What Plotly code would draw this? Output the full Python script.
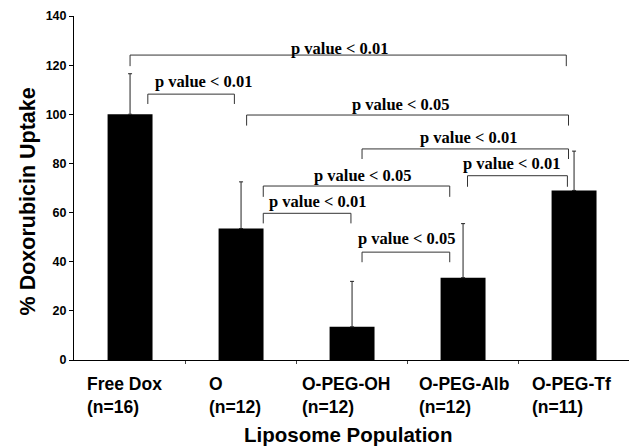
import plotly.graph_objects as go

# ---- data ----
categories = ["Free Dox", "O", "O-PEG-OH", "O-PEG-Alb", "O-PEG-Tf"]
n_labels = ["(n=16)", "(n=12)", "(n=12)", "(n=12)", "(n=11)"]
uptake_mean = [100, 53.5, 13.5, 33.5, 69]
uptake_err = [16.5, 19, 18.5, 22, 16]
y_ticks = [0, 20, 40, 60, 80, 100, 120, 140]

# significance comparisons: (group a, group b, label)
pair_a = ["Free Dox", "Free Dox", "O", "O-PEG-OH", "O-PEG-Alb", "O", "O", "O-PEG-OH"]
pair_b = ["O-PEG-Tf", "O", "O-PEG-Tf", "O-PEG-Tf", "O-PEG-Tf", "O-PEG-Alb", "O-PEG-OH", "O-PEG-Alb"]
p_labels = ["p value < 0.01", "p value < 0.01", "p value < 0.05", "p value < 0.01",
            "p value < 0.01", "p value < 0.05", "p value < 0.01", "p value < 0.05"]

# ---- layout geometry for the brackets (offsets from group centres, in axis units) ----
br_left_off = [0.0, 0.16, 0.05, 0.09, 0.04, 0.2, 0.2, 0.09]
br_right_off = [-0.07, -0.06, -0.05, -0.05, -0.06, -0.12, -0.01, -0.12]
br_top = [124.1, 108.2, 99.7, 85.9, 75.0, 70.8, 59.7, 43.9]
br_foot = [119.6, 104.2, 95.4, 81.8, 70.5, 66.4, 55.6, 39.8]
lab_x = [1.89, 0.66, 2.44, 3.05, 3.44, 2.09, 1.69, 2.49]
lab_y = [126.9, 113.2, 103.8, 90.5, 79.9, 74.9, 64.5, 49.3]
xlab_off = [-0.405, -0.306, -0.47, -0.414, -0.396]

SANS = "Arial, Liberation Sans, sans-serif"
SERIF = "Times New Roman, Liberation Serif, serif"

xpos = list(range(len(categories)))
idx = {c: i for i, c in enumerate(categories)}

fig = go.Figure()
fig.add_trace(go.Bar(
    x=xpos, y=uptake_mean, width=0.405,
    marker=dict(color="black", line=dict(width=0)),
    error_y=dict(type="data", array=uptake_err, arrayminus=[0] * len(uptake_err),
                 symmetric=False, color="#222222", thickness=1, width=2),
    showlegend=False,
))

annotations = []
for i, (a, b, lab) in enumerate(zip(pair_a, pair_b, p_labels)):
    xl = idx[a] + br_left_off[i]
    xr = idx[b] + br_right_off[i]
    fig.add_trace(go.Scatter(
        x=[xl, xl, xr, xr], y=[br_foot[i], br_top[i], br_top[i], br_foot[i]],
        mode="lines", line=dict(color="#333333", width=1),
        showlegend=False, hoverinfo="skip",
    ))
    annotations.append(dict(
        x=lab_x[i], y=lab_y[i], xref="x", yref="y", text=lab, showarrow=False,
        xanchor="center", yanchor="middle",
        font=dict(family=SERIF, size=16.5, color="black", weight="bold"),
    ))

for i, (c, n) in enumerate(zip(categories, n_labels)):
    annotations.append(dict(
        x=i + xlab_off[i], y=0, xref="x", yref="paper",
        text=f"{c}<br>{n}", showarrow=False, align="left",
        xanchor="left", yanchor="top", yshift=-12,
        font=dict(family=SANS, size=17.5, color="black", weight="bold"),
    ))

annotations.append(dict(
    x=0.494, y=0, xref="paper", yref="paper", text="Liposome Population",
    showarrow=False, xanchor="center", yanchor="middle", yshift=-74,
    font=dict(family=SANS, size=20.5, color="black", weight="bold"),
))
annotations.append(dict(
    x=-0.083, y=64.5, xref="paper", yref="y", text="% Doxorubicin Uptake",
    showarrow=False, textangle=-90, xanchor="center", yanchor="middle",
    font=dict(family=SANS, size=21.5, color="black", weight="bold"),
))

fig.update_layout(
    width=631, height=447,
    margin=dict(l=74, r=2, t=16, b=87),
    paper_bgcolor="white", plot_bgcolor="white",
    annotations=annotations,
    xaxis=dict(range=[-0.505, 4.495], showgrid=False, zeroline=False,
               showline=True, linecolor="black", linewidth=1,
               tickvals=[0.5, 1.5, 2.5, 3.5], ticks="outside", ticklen=3,
               tickcolor="#444444", showticklabels=False),
    yaxis=dict(range=[0, 140], tickvals=y_ticks, showgrid=False, zeroline=False,
               showline=True, linecolor="black", linewidth=1,
               ticks="outside", ticklen=4, tickcolor="black",
               tickfont=dict(family=SANS, size=12.5, color="black", weight="bold")),
)

fig.write_html("out.html", config={"displayModeBar": False},
               post_script="document.body.style.margin='0';")
